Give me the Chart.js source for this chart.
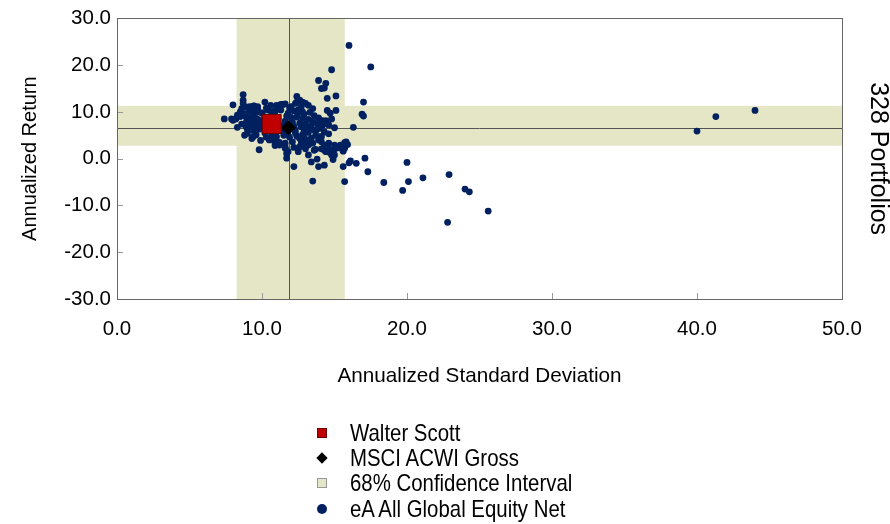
<!DOCTYPE html>
<html lang="en">
  <head>
    <meta charset="UTF-8" />
    <title>Annualized Return vs Standard Deviation</title>
    <style>
      body { margin: 0; background: #fff; }
      #caja { position: relative; width: 890px; height: 524px; }
      #leyenda {
        position: absolute; left: 312px; top: 420px;
        font: 24px 'Liberation Sans', Arial, sans-serif;
        color: #000;
      }
      .fila { height: 25.3px; display: flex; align-items: center; white-space: nowrap; }
      .marca { width: 20px; display: flex; justify-content: center; align-items: center; margin-right: 18px; }
      .texto { display: inline-block; transform: scaleX(0.85); transform-origin: left center; }
    </style>
  </head>

  <body>
    <div id="caja">
      <canvas id="lienzo" width="890" height="524"></canvas>
      <div id="leyenda"></div>
    </div>
    <script src="https://cdn.jsdelivr.net/npm/chart.js"></script>
    <script>
      // valores: [desviacion estandar, rendimiento]
      const walterScott = [[10.67, 7.4]];
      const msciAcwi = [[11.82, 6.59]];
      const universo = [
        [16.0,24.2],[17.5,19.6],[14.8,19.0],[13.9,16.7],[14.4,16.1],[14.1,15.0],[14.3,15.1],
        [12.4,13.3],[15.1,13.4],[14.5,12.9],[17.0,12.1],[16.9,9.5],[17.0,9.1],[16.3,6.7],
        [15.1,10.3],[14.5,10.3],[14.7,9.7],[14.8,8.5],[14.1,8.2],[14.2,7.9],[14.4,8.1],[14.6,7.2],
        [15.0,6.6],[14.0,6.5],[13.9,6.8],[13.3,6.5],[12.7,6.8],[12.3,6.1],[14.3,5.7],[13.75,6.1],
        [7.4,8.5],[8.0,11.5],[8.0,8.2],[7.9,8.5],[8.2,8.5],[8.3,9.3],[8.5,10.0],[8.6,10.7],
        [8.7,11.8],[8.7,12.5],[8.7,13.7],[8.3,6.7],[8.8,5.0],[9.8,1.9],[8.9,6.8],[9.0,5.4],
        [9.3,4.3],[9.0,6.1],[9.2,7.3],[9.5,6.7],[9.45,11.3],[9.6,10.6],[9.7,10.0],[9.3,10.1],
        [10.0,9.7],[10.4,10.4],[10.8,10.1],[11.0,10.7],[11.3,10.4],[8.9,8.9],[9.3,8.9],[9.6,8.6],
        [10.0,8.2],[8.9,9.3],[9.15,11.1],[9.4,10.4],[9.3,8.2],[9.0,7.5],[9.4,6.8],[9.4,4.7],
        [9.7,11.1],[10.2,12.1],[10.65,10.0],[11.0,11.4],[11.45,11.6],[10.6,11.4],[11.3,11.6],[11.6,11.7],
        [10.4,6.1],[10.7,5.0],[11.0,4.7],[11.5,5.0],[11.6,3.3],[11.6,2.2],[11.8,1.5],[11.7,0.1],
        [10.5,4.0],[10.9,3.3],[11.2,2.9],[11.6,2.5],[11.7,1.1],
        [12.2,-1.7],[13.5,-4.8],[13.9,-1.7],[14.3,-1.4],[13.4,-0.7],[13.2,0.8],[15.6,-1.7],[15.7,-4.9],
        [16.1,-0.5],[16.0,-0.9],[16.5,-1.0],[17.1,0.1],[17.3,-2.8],[18.4,-5.1],[15.7,3.4],[15.9,3.0],
        [20.0,-0.8],[19.7,-6.8],[20.1,-4.9],[21.1,-4.1],[22.9,-3.4],[22.8,-13.6],[24.0,-6.5],[24.3,-7.1],
        [25.6,-11.2],[14.9,0.4],[14.9,-0.2],[14.6,1.4],[14.8,1.6],[15.0,2.1],[15.4,2.3],[15.6,1.6],
        [13.7,2.0],[14.1,2.1],[14.4,2.7],[13.0,2.1],[12.6,4.3],[13.1,4.0],[13.5,3.3],[13.9,4.0],
        [14.1,3.6],[14.6,3.3],[15.0,2.9],[15.8,3.6],[15.7,2.2],[14.3,1.8],[14.8,0.8],[14.1,4.7],
        [14.3,2.9],[14.6,2.2],[15.1,2.2],[15.4,2.9],[12.6,2.5],[12.8,3.3],[13.2,2.9],[13.6,1.8],
        [14.4,1.5],[15.0,0.8],[13.8,-0.1],
        [40.0,5.9],[41.3,9.0],[44.0,10.3],
        [12.6,12.5],[13.2,11.4],[13.0,11.8],[12.3,11.8],[12.0,11.1],[12.5,10.4],[12.8,10.0],[11.8,9.7],
        [12.4,12.1],[12.8,12.1],
        [11.9,10.8],[12.2,10.2],[12.5,9.8],[12.9,9.5],[13.3,9.9],[13.6,9.2],
        [11.7,9.1],[12.0,8.8],[12.4,8.9],[12.8,8.6],[13.2,8.4],[13.5,8.0],[13.9,8.7],
        [11.6,8.0],[12.1,7.8],[12.6,7.6],[13.0,7.4],[13.4,7.1],[13.8,7.5],
        [11.5,7.1],[12.2,6.9],[12.9,6.3],[13.6,6.1],[14.2,7.2],
        [11.8,5.8],[12.3,5.5],[12.8,5.2],[13.2,5.6],[13.7,5.0],[14.6,5.3],
        [11.9,4.6],[12.4,4.8],[12.9,4.5],[13.4,4.4],[14.0,4.7],
        [12.1,3.6],[12.7,3.2],[13.0,2.9],[12.2,2.4],[12.5,1.5],
        [11.4,6.2],[11.1,8.4],[10.8,9.2],[10.5,8.6],[10.9,10.1],[11.2,10.6],[12.7,11.0],[13.5,10.7],
        [8.5,9.0],[8.8,9.6],[9.1,10.2],[9.4,9.1],[9.7,8.4],[9.2,8.2],[8.9,7.7],[9.6,7.5],
        [10.0,7.2],[10.2,8.0],[10.0,9.8],[9.7,10.6],[9.4,11.2],[10.3,10.8],[9.0,11.0],[8.6,7.4],
        [9.8,6.3],[10.2,5.5],[9.6,5.1],[10.6,6.8],[10.3,4.6],[9.9,3.9],[10.8,4.0],[11.2,3.5],
        [10.9,2.8],[9.4,6.0]
      ];
      const nombres = ["Walter Scott", "MSCI ACWI Gross", "68% Confidence Interval", "eA All Global Equity Net"];
      const bandaX = [8.25, 15.71];
      const bandaY = [2.75, 11.28];
      const lineaX = 11.84;
      const lineaY = 6.5;
      const rangoX = [0, 50];
      const rangoY = [-30, 30];

      const familia = "'Liberation Sans', Arial, sans-serif";
      const colorBanda = "rgb(229,230,198)";
      const azul = "#002060";

      const aPuntos = (lista) => lista.map((p) => ({ x: p[0], y: p[1] }));

      const fondo = {
        id: "fondo",
        beforeDraw(chart) {
          const { ctx, chartArea: a, scales } = chart;
          const x0 = scales.x.getPixelForValue(bandaX[0]);
          const x1 = scales.x.getPixelForValue(bandaX[1]);
          const y0 = scales.y.getPixelForValue(bandaY[1]);
          const y1 = scales.y.getPixelForValue(bandaY[0]);
          ctx.save();
          ctx.fillStyle = colorBanda;
          ctx.fillRect(x0, a.top, x1 - x0, a.bottom - a.top);
          ctx.fillRect(a.left, y0, a.right - a.left, y1 - y0);
          ctx.restore();
        },
        beforeDatasetsDraw(chart) {
          const { ctx, chartArea: a, scales } = chart;
          ctx.save();
          // marcas de division hacia adentro
          ctx.strokeStyle = "#999";
          ctx.lineWidth = 1;
          ctx.beginPath();
          scales.x.ticks.forEach((t) => {
            const px = Math.round(scales.x.getPixelForValue(t.value)) + 0.5;
            ctx.moveTo(px, a.bottom);
            ctx.lineTo(px, a.bottom - 6);
          });
          scales.y.ticks.forEach((t) => {
            const py = Math.round(scales.y.getPixelForValue(t.value)) + 0.5;
            ctx.moveTo(a.left, py);
            ctx.lineTo(a.left + 6, py);
          });
          ctx.stroke();
          // lineas del indice
          ctx.strokeStyle = "#555";
          ctx.beginPath();
          const lx = Math.round(scales.x.getPixelForValue(lineaX)) + 0.5;
          const ly = Math.round(scales.y.getPixelForValue(lineaY)) + 0.5;
          ctx.moveTo(lx, a.top);
          ctx.lineTo(lx, a.bottom);
          ctx.moveTo(a.left, ly);
          ctx.lineTo(a.right, ly);
          ctx.stroke();
          // marco
          ctx.strokeStyle = "#666";
          ctx.strokeRect(Math.round(a.left) + 0.5, Math.round(a.top) + 0.5,
            Math.round(a.right - a.left), Math.round(a.bottom - a.top));
          ctx.restore();
        },
      };

      const grafico = new Chart(document.querySelector("#lienzo"), {
        type: "scatter",
        data: {
          datasets: [
            {
              label: nombres[0],
              data: aPuntos(walterScott),
              pointStyle: "rect",
              pointRadius: 13.4,
              backgroundColor: "#C00000",
              borderColor: "#700000",
              borderWidth: 1,
            },
            {
              label: nombres[1],
              data: aPuntos(msciAcwi),
              pointStyle: "rectRot",
              pointRadius: 7.5,
              backgroundColor: "#000",
              borderColor: "#000",
              borderWidth: 0,
            },
            {
              label: nombres[3],
              data: aPuntos(universo),
              pointRadius: 3.4,
              backgroundColor: azul,
              borderColor: azul,
              borderWidth: 0,
            },
          ],
        },
        options: {
          responsive: false,
          animation: false,
          devicePixelRatio: 1,
          layout: { padding: { top: 18, right: 0, bottom: 125, left: 0 } },
          plugins: { legend: { display: false }, tooltip: { enabled: false } },
          scales: {
            x: {
              type: "linear",
              min: rangoX[0],
              max: rangoX[1],
              grid: { display: false, drawTicks: false },
              border: { display: false },
              ticks: {
                stepSize: 10,
                padding: 18,
                color: "#000",
                font: { family: familia, size: 20.5, lineHeight: 1.2 },
                callback: (v) => v.toFixed(1),
              },
              title: {
                display: true,
                text: "Annualized Standard Deviation",
                color: "#000",
                font: { family: familia, size: 20.7, lineHeight: 1.2 },
                padding: { top: 0, bottom: 10 },
              },
              afterFit: (s) => { s.height = 100; },
            },
            y: {
              type: "linear",
              min: rangoY[0],
              max: rangoY[1],
              grid: { display: false, drawTicks: false },
              border: { display: false },
              ticks: {
                stepSize: 10,
                padding: 6,
                color: "#000",
                font: { family: familia, size: 20.5, lineHeight: 1.2 },
                callback: (v) => v.toFixed(1),
              },
              title: {
                display: true,
                text: "Annualized Return",
                color: "#000",
                font: { family: familia, size: 20, lineHeight: 1.2 },
                padding: { top: 18, bottom: 0 },
              },
              afterFit: (s) => { s.width = 117; },
            },
            y2: {
              type: "linear",
              position: "right",
              min: rangoY[0],
              max: rangoY[1],
              grid: { display: false, drawTicks: false },
              border: { display: false },
              ticks: { display: false },
              title: {
                display: true,
                text: "328 Portfolios",
                color: "#000",
                font: { family: familia, size: 25, lineHeight: 1 },
                padding: 0,
              },
              afterFit: (s) => { s.width = 48; },
            },
          },
        },
        plugins: [fondo],
      });

      // leyenda en html
      const marcas = [
        "width:10px;height:10px;background:#C00000;border:1px solid #700000;box-sizing:border-box",
        "width:8px;height:8px;background:#000;transform:rotate(45deg)",
        "width:10px;height:10px;background:" + colorBanda + ";border:1px solid #999;box-sizing:border-box",
        "width:10px;height:10px;background:" + azul + ";border-radius:50%",
      ];
      document.querySelector("#leyenda").innerHTML = nombres
        .map((n, i) => `<div class="fila"><span class="marca"><span style="${marcas[i]}"></span></span><span class="texto">${n}</span></div>`)
        .join("");
    </script>
  </body>
</html>
